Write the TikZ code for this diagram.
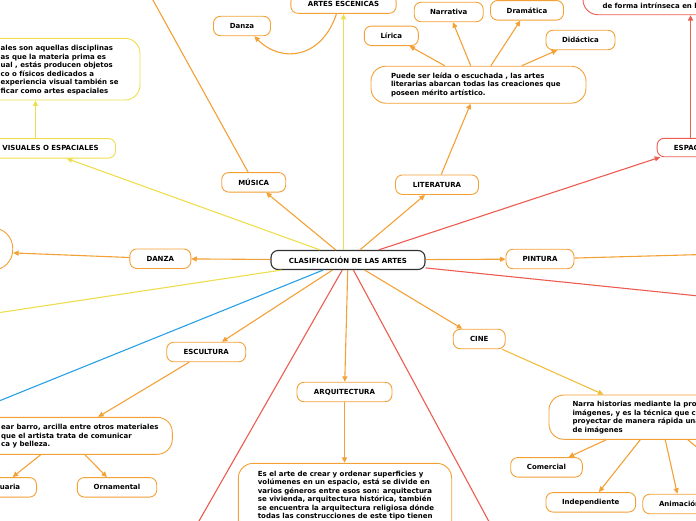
\documentclass[tikz,border=0pt]{standalone}
\usepackage{fontspec}
\setmainfont{DejaVu Sans}
\usetikzlibrary{arrows.meta,calc}
\definecolor{cor}{RGB}{243,161,54}
\definecolor{cye}{RGB}{238,222,78}
\definecolor{cre}{RGB}{236,92,80}
\definecolor{cbl}{RGB}{40,160,230}
\definecolor{cgo}{RGB}{240,190,60}
\definecolor{cdk}{RGB}{50,50,50}
\begin{document}
\begin{tikzpicture}[x=1pt,y=-1pt,
  font=\fontsize{7}{8.5}\selectfont\bfseries,
  box/.style={draw, line width=0.9pt, fill=white, rounded corners=7pt, minimum height=19.5pt, inner sep=0pt, text=black},
  obox/.style={box, draw=cor},
  ybox/.style={box, draw=cye},
  rbox/.style={box, draw=cre},
  dbox/.style={draw, line width=0.9pt, fill=white, rounded corners=15pt, inner sep=0pt},
  txt/.style={inner sep=0pt, align=left, anchor=north west, text=black},
  con/.style={line width=1.1pt},
  arr/.style={con, -{Triangle[length=5.5pt,width=5pt]}},
  vert/.style={line width=1.5pt},
]
\useasboundingbox (0,0) rectangle (696,520);
\clip (0,0) rectangle (696,520);

% central
\node[box, draw=cdk, line width=1.1pt, minimum width=154pt, minimum height=19pt] (C) at (348,260) {CLASIFICACIÓN DE LAS ARTES};

% main branches
\node[obox, minimum width=64pt] (mus) at (253.7,182.3) {MÚSICA};
\node[obox, minimum width=61pt] (dan) at (160.3,258.7) {DANZA};
\node[obox, minimum width=83pt] (lit) at (437,184.7) {LITERATURA};
\node[obox, minimum width=68pt] (pin) at (540,259) {PINTURA};
\node[obox, minimum width=79pt] (esc) at (206.2,352) {ESCULTURA};
\node[obox, minimum width=95pt] (arq) at (344.5,392) {ARQUITECTURA};
\node[obox, minimum width=52pt] (cine) at (479.2,339) {CINE};
\node[obox, minimum width=105.3pt, minimum height=19pt] (ae) at (343.5,3.8) {ARTES ESCENICAS};
\node[ybox, minimum width=130pt] (vis) at (50.5,148.3) {VISUALES O ESPACIALES};
\node[rbox, minimum width=121.7pt, minimum height=18.4pt] (espac) at (718,147.5) {ESPACIO-TEMPORALES};

% top small nodes
\node[obox, minimum width=57pt] (dz1) at (242,26) {Danza};
\node[obox, minimum width=69pt] (nar) at (448.7,12) {Narrativa};
\node[obox, minimum width=73pt] (dra) at (527,10.3) {Dramática};
\node[obox, minimum width=54pt] (lir) at (391.3,35.8) {Lírica};
\node[obox, minimum width=69pt] (did) at (580.5,40) {Didáctica};
\node[obox, rounded corners=15pt, minimum width=215pt, minimum height=37pt, text width=175pt, align=left] (litd) at (478.5,84.7) {Puede ser leída o escuchada , las artes\\literarias abarcan todas las creaciones que\\poseen mérito artístico.};

% visuales description
\node[dbox, draw=cye, minimum width=200pt, minimum height=61.7pt] (visd) at (40,69.15) {};
\node[txt] (visdt) at (0.5,45.4) {ales son aquellas disciplinas\\as que la materia prima es\\ual , estás producen objetos\\co o físicos dedicados a\\experiencia visual también se\\ficar como artes espaciales};

% red top box
\node[dbox, draw=cre, minimum width=217pt, minimum height=74.7pt] (esptop) at (691.5,-22.65) {};
\node[inner sep=0pt, anchor=mid west, text=black] (esptopt) at (602.3,5.5) {de forma intrínseca en la};

% left danza target
\node[obox, rounded corners=20pt, minimum width=200pt, minimum height=42pt] (dz2) at (-87.3,249) {};

% escultura description
\node[dbox, draw=cor, minimum width=272.3pt, minimum height=37pt] (escd) at (36.15,435.8) {};
\node[txt] (escdt) at (1,424.4) {ear barro, arcilla entre otros materiales\\que el artista trata de comunicar\\ca y belleza.};
\node[obox, minimum width=73.4pt] (est) at (-0.15,487.3) {Estatuaria};
\node[obox, minimum width=79.4pt] (orn) at (117,487.3) {Ornamental};

% arquitectura description
\node[dbox, draw=cor, minimum width=213.4pt, minimum height=90pt] (arqd) at (345,508.3) {};
\node[txt] (arqdt) at (257.7,470.7) {Es el arte de crear y ordenar superficies y\\volúmenes en un espacio, está se divide en\\varios géneros entre esos son: arquitectura\\se vivienda, arquitectura histórica, también\\se encuentra la arquitectura religiosa dónde\\todas las construcciones de este tipo tienen};

% cine description
\node[dbox, draw=cor, minimum width=231pt, minimum height=44.3pt] (cined) at (664.5,417.15) {};
\node[txt] (cinedt) at (572.3,401) {Narra historias mediante la proyección de\\imágenes, y es la técnica que consiste en\\proyectar de manera rápida una sucesión\\de imágenes};
\node[obox, minimum width=71.6pt] (com) at (546.5,467.3) {Comercial};
\node[obox, minimum width=89.7pt] (ind) at (590.8,502.3) {Independiente};
\node[obox, minimum width=73.8pt] (ani) at (679.6,504) {Animación};

% off-canvas ends
\coordinate (offY) at (-100,327.6);
\coordinate (offB) at (-100,441);
\coordinate (offR1) at (142.5,620);
\coordinate (offR2) at (542,620);
\coordinate (offR3) at (800,306.4);
\coordinate (offM) at (136.3,-30);
\coordinate (offP) at (800,251.8);
\coordinate (cineoff) at (720,466.5);

% connectors from central
\draw[arr, cor] (C) -- (mus);
\draw[arr, cor] (C) -- (dan);
\draw[arr, cor] (C) -- (lit);
\draw[arr, cor] (C) -- (pin);
\draw[arr, cor] (C) -- (esc);
\draw[arr, cor] (C) -- (arq);
\draw[arr, cor] (C) -- (cine);
\draw[arr, vert, cye] (C.north -| ae.south) -- (ae.south);
\draw[arr, cye] (C) -- ([xshift=16.2pt]vis.south);
\draw[arr, cre] (C) -- ([xshift=3.5pt]espac.south west);
\draw[con, cye] (C) -- (offY);
\draw[con, cbl] (C) -- (offB);
\draw[con, cre] (C) -- (offR1);
\draw[con, cre] (C) -- (offR2);
\draw[con, cre] (C) -- (offR3);

% secondary connectors
\draw[con, cor] (mus) -- (offM);
\draw[arr, cor] (dan) -- (dz2);
\draw[arr, cor] ([xshift=-7pt]ae.south) .. controls (322,58) and (282,64) .. ([xshift=12.3pt]dz1.south);
\draw[arr, cor] (lit) -- (litd);
\draw[arr, cor] (litd) -- (lir);
\draw[arr, cor] (litd) -- (nar);
\draw[arr, cor] (litd) -- (dra);
\draw[arr, cor] (litd) -- (did);
\draw[arr, vert, cye] ([xshift=-15pt]vis.north) -- ([xshift=-15pt]vis.north |- visd.south);
\draw[arr, cor] (esc) -- ([xshift=62pt]escd.north);
\draw[arr, cor] ([xshift=4.5pt]escd.south) -- (est);
\draw[arr, cor] ([xshift=48.8pt]escd.south) -- (orn);
\draw[arr, vert, cor] (arq.south) -- (arq.south |- arqd.north);
\draw[arr, cgo] (cine) -- ([xshift=55pt]cined.north west);
\draw[arr, cor] ([xshift=57.7pt]cined.south west) -- (com);
\draw[arr, cor] ([xshift=91.7pt]cined.south west) -- (ind);
\draw[arr, cor] ([xshift=116.7pt]cined.south west) -- (ani);
\draw[con, cor] ([xshift=139.3pt]cined.south west) -- (cineoff);
\draw[con, cor] (pin) -- (offP);
\draw[arr, vert, cre] ([xshift=-27.5pt]espac.north) -- ([xshift=-27.5pt]espac.north |- esptop.south);
\end{tikzpicture}
\end{document}
